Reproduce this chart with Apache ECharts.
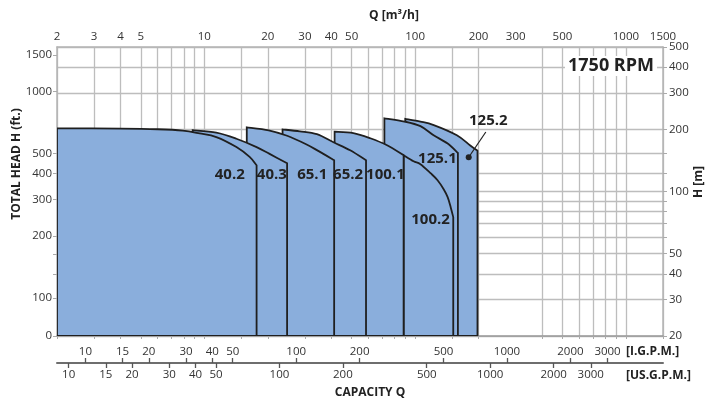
<!DOCTYPE html>
<html><head><meta charset="utf-8">
<script src="https://cdn.jsdelivr.net/npm/echarts@6/dist/echarts.min.js"></script>
<style>html,body{margin:0;padding:0;background:#fff}#c{width:707px;height:400px}</style>
</head><body><div id="c"></div>
<script>
// ---- axis ticks (Q in m3/h, H in m / ft) ----
const Q_TICK_LABELS = [2,3,4,5,10,20,30,40,50,100,200,300,500,1000,1500];
const Q_GRID = [2,3,4,5,6,7,8,9,10,15,20,30,40,50,60,70,80,90,100,150,200,400,500,600,700,800,900,1000,1500];
const H_M_LABELS = [20,30,40,50,100,200,300,400,500];
const H_GRID_M = [20,30,40,50,60,70,80,90,100,121.92,152.4,200,300,400,500];
const H_FT_LABELS = [65.617,100,200,300,400,500,1000,1500];
const H_FT_TICKS = [65.617,100,131.2,164,200,300,400,500,1000,1500];
const IGPM_LABELS = [10,15,20,30,40,50,100,200,500,1000,2000,3000];
const USGPM_LABELS = [10,15,20,30,40,50,100,200,500,1000,2000,3000];

// ---- pump curves: Q [m3/h], H [m] ----
const PUMP_NAMES = ['40.2','40.3','65.1','65.2','100.1','100.2','125.1','125.2'];
const Q_40_2 = [2, 4, 6, 7.9, 9.5, 11.4, 14.2, 16.4, 17.7];
const H_40_2 = [202, 201.5, 200, 197, 191, 183.4, 164, 147, 134];
const Q_40_3 = [8.8, 11.4, 14.2, 17.7, 20.4, 24.7];
const H_40_3 = [198, 192.6, 180, 164, 152, 137];
const Q_65_1 = [15.9, 20.2, 24.7, 30.4, 34.7, 41.3];
const H_65_1 = [204.5, 197.8, 186, 169.3, 157.2, 141.7];
const Q_65_2 = [23.5, 28.4, 34.2, 41, 49.2, 58.5];
const H_65_2 = [199.7, 195.5, 189.4, 173, 158.3, 141.7];
const Q_100_1 = [41.5, 50.9, 61.3, 73.6, 88.2];
const H_100_1 = [194.5, 191.7, 181, 167.4, 149.8];
const Q_100_2 = [88.2, 98.3, 106, 118.4, 127.8, 136.6, 142.7, 147.5, 151.7];
const H_100_2 = [149.8, 140, 135.5, 122.6, 113.4, 102.6, 93.9, 84, 75.1];
const Q_125_1 = [71.5, 89, 106, 122.4, 142.7, 159.6];
const H_125_1 = [226, 218, 207, 187, 170.6, 153.6];
const Q_125_2 = [89.8, 106, 122.6, 157.8, 182, 197.7];
const H_125_2 = [224.8, 218, 209.6, 187.1, 167.4, 157.3];

const CURVES = [
  {q:Q_40_2, h:H_40_2}, {q:Q_40_3, h:H_40_3}, {q:Q_65_1, h:H_65_1}, {q:Q_65_2, h:H_65_2},
  {q:Q_100_1, h:H_100_1}, {q:Q_100_2, h:H_100_2}, {q:Q_125_1, h:H_125_1}, {q:Q_125_2, h:H_125_2}
];

// label anchors (Q, H) for the pump names
const LABEL_Q = [13.2, 20.9, 32.5, 48.1, 72.3, 118.4, 127.6, 222.4];
const LABEL_H = [121, 121, 121, 121, 121, 72.7, 144, 219.6];
// callout for 125.2: dot and line end
const CALLOUT_Q = [179.6, 216.5];
const CALLOUT_H = [146.5, 194];

const Q_MIN = 2, Q_MAX = 1500, H_MIN = 20, H_MAX = 500;
const FT_PER_M = 3.28084, IGPM_PER_M3H = 3.666, USGPM_PER_M3H = 4.403;

const FONT = '"Open Sans", "Noto Sans", sans-serif';
const GRID_COLOR = '#bdbdbd';
const FILL = '#8aaedc';
const EDGE = '#1f1f1f';
const fmt = v => String(Math.round(v * 100) / 100);

// Catmull-Rom spline through pixel points -> SVG path commands
function splineThrough(pts) {
  let d = '';
  for (let i = 0; i < pts.length - 1; i++) {
    const p0 = pts[i-1] || pts[i], p1 = pts[i], p2 = pts[i+1], p3 = pts[i+2] || pts[i+1];
    const c1x = p1[0] + (p2[0] - p0[0]) / 6, c1y = p1[1] + (p2[1] - p0[1]) / 6;
    const c2x = p2[0] - (p3[0] - p1[0]) / 6, c2y = p2[1] - (p3[1] - p1[1]) / 6;
    d += ' C' + c1x.toFixed(2) + ',' + c1y.toFixed(2) + ' ' + c2x.toFixed(2) + ',' + c2y.toFixed(2) + ' ' + p2[0].toFixed(2) + ',' + p2[1].toFixed(2);
  }
  return d;
}

const chart = echarts.init(document.getElementById('c'), null, {renderer:'canvas'});

// draw order: last pump at the bottom, first pump on top
const polyData = CURVES.map((c, i) => [c.q[c.q.length-1], c.h[c.h.length-1], i]).reverse();

chart.setOption({
  animation: false,
  backgroundColor: '#fff',
  grid: {left: 57, right: 44, top: 47, bottom: 64},
  xAxis: [
    { type:'log', position:'top', min:Q_MIN, max:Q_MAX,
      axisLine:{show:true, lineStyle:{color:'#b5b5b5', width:1.5}},
      axisTick:{show:false, customValues:Q_GRID},
      axisLabel:{customValues:Q_TICK_LABELS, formatter:fmt, color:'#333', fontSize:11.5, fontFamily:FONT, margin:4},
      splitLine:{show:true, lineStyle:{color:GRID_COLOR, width:1.3}} },
    { type:'log', position:'bottom', min:Q_MIN, max:Q_MAX,
      axisLine:{show:true, lineStyle:{color:'#999', width:1.5}},
      axisTick:{show:true, customValues:Q_GRID, length:3, lineStyle:{color:'#aaa'}},
      axisLabel:{show:false}, splitLine:{show:false} },
    { type:'log', position:'bottom', offset:27, min:Q_MIN*IGPM_PER_M3H, max:Q_MAX*IGPM_PER_M3H,
      axisLine:{show:true, lineStyle:{color:'#6e6e6e', width:2}},
      axisTick:{show:true, inside:true, length:5, customValues:IGPM_LABELS, lineStyle:{color:'#555', width:1.3}},
      axisLabel:{inside:true, customValues:IGPM_LABELS, formatter:fmt, color:'#333', fontSize:11.5, fontFamily:FONT, margin:5},
      splitLine:{show:false} },
    { type:'log', position:'bottom', offset:27, min:Q_MIN*USGPM_PER_M3H, max:Q_MAX*USGPM_PER_M3H,
      axisLine:{show:false},
      axisTick:{show:true, inside:false, length:5, customValues:USGPM_LABELS, lineStyle:{color:'#555', width:1.3}},
      axisLabel:{customValues:USGPM_LABELS, formatter:fmt, color:'#333', fontSize:11.5, fontFamily:FONT, margin:6},
      splitLine:{show:false} }
  ],
  yAxis: [
    { type:'log', position:'right', min:H_MIN, max:H_MAX,
      axisLine:{show:true, lineStyle:{color:'#b5b5b5', width:1.5}},
      axisTick:{show:true, customValues:H_GRID_M, length:4, lineStyle:{color:'#aaa'}},
      axisLabel:{customValues:H_M_LABELS, formatter:fmt, color:'#333', fontSize:11.5, fontFamily:FONT, margin:6},
      splitLine:{show:true, lineStyle:{color:GRID_COLOR, width:1.3}} },
    { type:'log', position:'left', min:H_MIN*FT_PER_M, max:H_MAX*FT_PER_M,
      axisLine:{show:true, lineStyle:{color:'#b5b5b5', width:1.5}},
      axisTick:{show:true, customValues:H_FT_TICKS, length:4, lineStyle:{color:'#aaa'}},
      axisLabel:{customValues:H_FT_LABELS, formatter:v => v < 70 ? '0' : fmt(v), color:'#333', fontSize:11.5, fontFamily:FONT, margin:5},
      splitLine:{show:false} }
  ],
  series: [
    { type:'custom', xAxisIndex:0, yAxisIndex:0, clip:true, z:3,
      data: polyData,
      renderItem(params, api) {
        const c = CURVES[api.value(2)];
        const top = [];
        for (let k = 0; k < c.q.length; k++) top.push(api.coord([c.q[k], c.h[k]]));
        const bl = api.coord([c.q[0], H_MIN]);
        const br = api.coord([c.q[c.q.length-1], H_MIN]);
        const d = 'M' + bl[0] + ',' + bl[1] + ' L' + top[0][0] + ',' + top[0][1] +
          splineThrough(top) + ' L' + br[0] + ',' + br[1] + ' Z';
        return {type:'path', shape:{pathData:d},
          style:{fill:FILL, stroke:EDGE, lineWidth:1.8, lineJoin:'miter'}};
      } },
    { type:'custom', xAxisIndex:0, yAxisIndex:0, clip:false, z:5,
      data: PUMP_NAMES.map((n, i) => [LABEL_Q[i], LABEL_H[i], i]),
      renderItem(params, api) {
        const p = api.coord([api.value(0), api.value(1)]);
        return {type:'text', x:p[0], y:p[1],
          style:{text:PUMP_NAMES[api.value(2)], fill:'#222', font:'bold 15px ' + FONT, align:'center', verticalAlign:'middle'}};
      } },
    { type:'custom', xAxisIndex:0, yAxisIndex:0, clip:false, z:5,
      data: [[CALLOUT_Q[0], CALLOUT_H[0], CALLOUT_Q[1], CALLOUT_H[1]]],
      renderItem(params, api) {
        const a = api.coord([api.value(0), api.value(1)]);
        const b = api.coord([api.value(2), api.value(3)]);
        return {type:'group', children:[
          {type:'line', shape:{x1:a[0], y1:a[1], x2:b[0], y2:b[1]}, style:{stroke:'#222', lineWidth:1.2}},
          {type:'circle', shape:{cx:a[0], cy:a[1], r:3}, style:{fill:'#222'}}
        ]};
      } }
  ],
  graphic: [
    {type:'text', x:394, y:16, style:{text:'Q [m³/h]', font:'bold 12px ' + FONT, fill:'#222', align:'center', verticalAlign:'middle'}},
    {type:'text', x:370, y:393, style:{text:'CAPACITY Q', font:'bold 12px ' + FONT, fill:'#222', align:'center', verticalAlign:'middle'}},
    {type:'text', x:626, y:352, style:{text:'[I.G.P.M.]', font:'bold 12px ' + FONT, fill:'#222', align:'left', verticalAlign:'middle'}},
    {type:'text', x:626, y:376, style:{text:'[US.G.P.M.]', font:'bold 12px ' + FONT, fill:'#222', align:'left', verticalAlign:'middle'}},
    {type:'text', x:17, y:164, rotation:Math.PI/2, style:{text:'TOTAL HEAD H (ft.)', font:'bold 12px ' + FONT, fill:'#222', align:'center', verticalAlign:'middle'}},
    {type:'text', x:699, y:182, rotation:Math.PI/2, style:{text:'H [m]', font:'bold 12px ' + FONT, fill:'#222', align:'center', verticalAlign:'middle'}},
    {type:'text', x:611, y:66, z:10, style:{text:'1750 RPM', font:'bold 18px ' + FONT, fill:'#222', align:'center', verticalAlign:'middle', backgroundColor:'#fff', padding:[1,3]}}
  ]
});
</script></body></html>
